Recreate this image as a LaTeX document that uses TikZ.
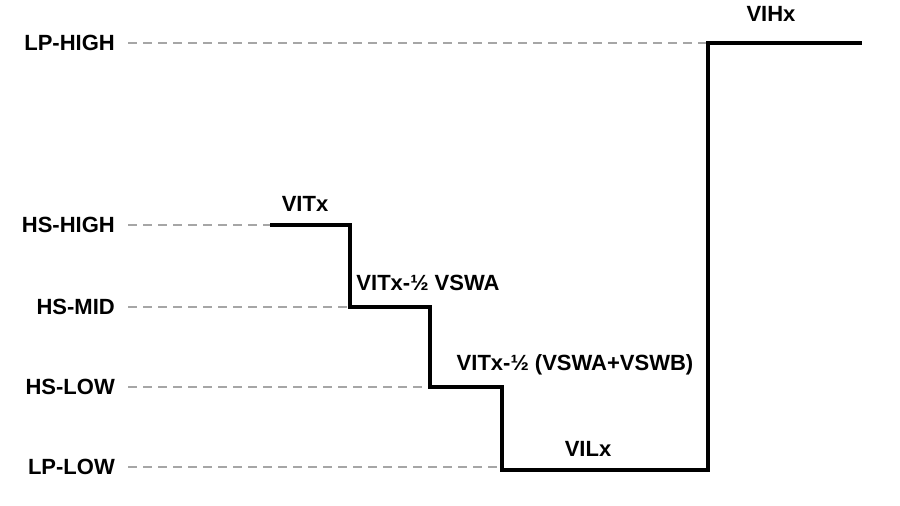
\documentclass[tikz,border=0pt]{standalone}
\usepackage{fontspec}
\setmainfont{Liberation Sans}
\begin{document}
\begin{tikzpicture}[x=1pt,y=-1pt,
  lab/.style={font=\bfseries\fontsize{22}{26}\selectfont,inner sep=0},
  guide/.style={gray!70,line width=2pt,dash pattern=on 9pt off 6pt},
  sig/.style={black,line width=4pt,line join=miter}]
\useasboundingbox (0,0) rectangle (900,506);
\node[lab,anchor=east] (lph) at (115,43) {LP-HIGH};
\node[lab,anchor=east] (hsh) at (115,225) {HS-HIGH};
\node[lab,anchor=east] (hsm) at (115,307) {HS-MID};
\node[lab,anchor=east] (hsl) at (115,387) {HS-LOW};
\node[lab,anchor=east] (lpl) at (115,467) {LP-LOW};
\coordinate (a) at (270,225); \coordinate (b) at (350,225);
\coordinate (c) at (350,307); \coordinate (d) at (430,307);
\coordinate (e) at (430,387); \coordinate (f) at (502,387);
\coordinate (g) at (502,470); \coordinate (h) at (708,470);
\coordinate (i) at (708,43); \coordinate (j) at (862,43);
\draw[guide] ([xshift=13pt]lph.east) -- (i);
\draw[guide] ([xshift=13pt]hsh.east) -- (a);
\draw[guide] ([xshift=13pt]hsm.east) -- (c);
\draw[guide] ([xshift=13pt]hsl.east) -- (e);
\draw[guide] ([xshift=13pt]lpl.east) -- (502,467);
\draw[sig] (a)--(b)--(c)--(d)--(e)--(f)--(g)--(h)--(i)--(j);
\node[lab] (t1) at (305,204) {VITx};
\node[lab] (t2) at (428,283) {VITx-½ VSWA};
\node[lab] (t3) at (575,365) {VITx-½ (VSWA+VSWB)};
\node[lab] (t4) at (588,449) {VILx};
\node[lab] (t5) at (771,14) {VIHx};
\end{tikzpicture}
\end{document}
